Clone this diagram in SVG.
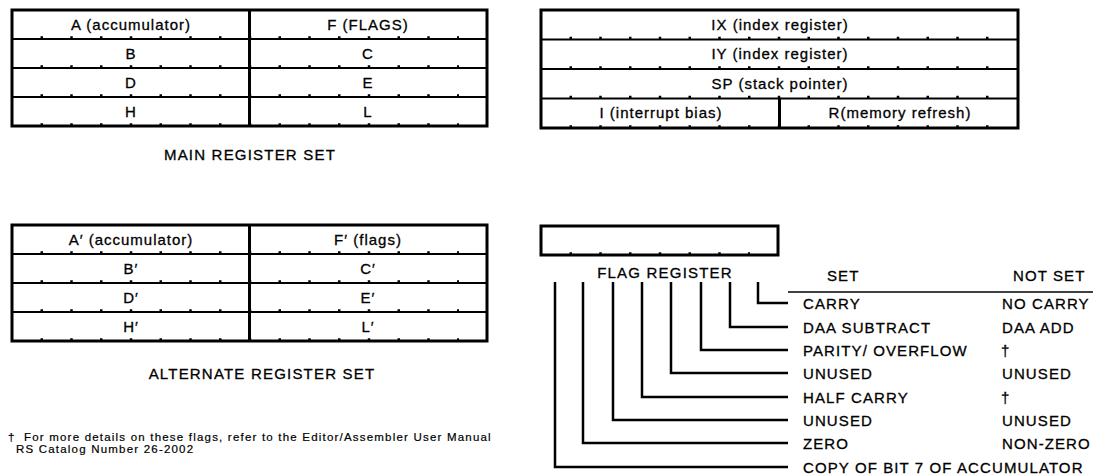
<svg xmlns="http://www.w3.org/2000/svg" width="1104" height="476" viewBox="0 0 1104 476">
<style>
  text { font-family: "Liberation Sans", Arial, sans-serif; fill: #000; stroke: #000; stroke-width: 0.3; }
  .lbl { font-size: 15px; letter-spacing: 1px; text-anchor: middle; }
  .cap { font-size: 15px; letter-spacing: 1.2px; text-anchor: middle; }
  .fl { font-size: 15px; letter-spacing: 1.1px; }
  .fn { font-size: 11.5px; letter-spacing: 1.2px; stroke-width: 0.2; }
  .border { fill: none; stroke: #000; stroke-width: 3; }
  .row { stroke: #000; stroke-width: 2; fill: none; }
  .div { stroke: #000; stroke-width: 3; fill: none; }
  .bump { stroke: #000; stroke-width: 2.5; stroke-dasharray: 2.5 27.25; fill: none; }
  .wire { fill: none; stroke: #000; stroke-width: 2.5; }
</style>
<rect width="1104" height="476" fill="#fff"/>

<g id="main-register-set">
  <line class="row" x1="12" y1="39" x2="487" y2="39"/>
  <line class="row" x1="12" y1="68" x2="487" y2="68"/>
  <line class="row" x1="12" y1="97" x2="487" y2="97"/>
  <line class="bump" x1="40.5" y1="37.5" x2="459" y2="37.5"/>
  <line class="bump" x1="40.5" y1="66.5" x2="459" y2="66.5"/>
  <line class="bump" x1="40.5" y1="95.5" x2="459" y2="95.5"/>
  <line class="bump" x1="40.5" y1="124.5" x2="459" y2="124.5"/>
  <line class="div" x1="249.5" y1="10" x2="249.5" y2="126"/>
  <rect class="border" x="12" y="10" width="475" height="116"/>
  <text class="lbl" x="131" y="29.5">A (accumulator)</text>
  <text class="lbl" x="368" y="29.5">F (FLAGS)</text>
  <text class="lbl" x="131" y="58.5">B</text>
  <text class="lbl" x="368" y="58.5">C</text>
  <text class="lbl" x="131" y="87.5">D</text>
  <text class="lbl" x="368" y="87.5">E</text>
  <text class="lbl" x="131" y="116.5">H</text>
  <text class="lbl" x="368" y="116.5">L</text>
  <text class="cap" x="250" y="160">MAIN REGISTER SET</text>
</g>

<g id="special-registers">
  <line class="row" x1="541" y1="39.5" x2="1018" y2="39.5"/>
  <line class="row" x1="541" y1="69" x2="1018" y2="69"/>
  <line class="row" x1="541" y1="98.5" x2="1018" y2="98.5"/>
  <line class="bump" x1="569.5" y1="38" x2="990" y2="38"/>
  <line class="bump" x1="569.5" y1="67.5" x2="990" y2="67.5"/>
  <line class="bump" x1="569.5" y1="97" x2="990" y2="97"/>
  <line class="bump" x1="569.5" y1="126.5" x2="990" y2="126.5"/>
  <line class="div" x1="779.5" y1="98.5" x2="779.5" y2="128"/>
  <rect class="border" x="541" y="10" width="477" height="118"/>
  <text class="lbl" x="780" y="29.5">IX (index register)</text>
  <text class="lbl" x="780" y="59">IY (index register)</text>
  <text class="lbl" x="780" y="88.5">SP (stack pointer)</text>
  <text class="lbl" x="661" y="118">I (interrupt bias)</text>
  <text class="lbl" x="900" y="118">R(memory refresh)</text>
</g>

<g id="alternate-register-set">
  <line class="row" x1="12" y1="254" x2="487" y2="254"/>
  <line class="row" x1="12" y1="283" x2="487" y2="283"/>
  <line class="row" x1="12" y1="312" x2="487" y2="312"/>
  <line class="bump" x1="40.5" y1="252.5" x2="459" y2="252.5"/>
  <line class="bump" x1="40.5" y1="281.5" x2="459" y2="281.5"/>
  <line class="bump" x1="40.5" y1="310.5" x2="459" y2="310.5"/>
  <line class="bump" x1="40.5" y1="339.5" x2="459" y2="339.5"/>
  <line class="div" x1="249.5" y1="225" x2="249.5" y2="341"/>
  <rect class="border" x="12" y="225" width="475" height="116"/>
  <text class="lbl" x="131" y="244.5">A′ (accumulator)</text>
  <text class="lbl" x="368" y="244.5">F′ (flags)</text>
  <text class="lbl" x="131" y="273.5">B′</text>
  <text class="lbl" x="368" y="273.5">C′</text>
  <text class="lbl" x="131" y="302.5">D′</text>
  <text class="lbl" x="368" y="302.5">E′</text>
  <text class="lbl" x="131" y="331.5">H′</text>
  <text class="lbl" x="368" y="331.5">L′</text>
  <text class="cap" x="262" y="378.5">ALTERNATE REGISTER SET</text>
</g>

<g id="flag-register">
  <line class="bump" x1="569.5" y1="253.5" x2="750" y2="253.5"/>
  <rect class="border" x="541" y="226" width="237" height="29"/>
  <text class="cap" x="665" y="277.5">FLAG REGISTER</text>
</g>

<g id="flag-table-header">
  <text class="fl" x="827" y="280.5">SET</text>
  <text class="fl" x="1013" y="280.5">NOT SET</text>
  <line x1="788" y1="292" x2="1093" y2="292" stroke="#000" stroke-width="1.5"/>
</g>

<g id="connectors">
  <path class="wire" d="M758,282 V303 H788"/>
  <path class="wire" d="M730,282 V327 H788"/>
  <path class="wire" d="M701,282 V350 H788"/>
  <path class="wire" d="M671,282 V373 H788"/>
  <path class="wire" d="M642,282 V397 H788"/>
  <path class="wire" d="M613,282 V420 H788"/>
  <path class="wire" d="M583,282 V443 H788"/>
  <path class="wire" d="M555,282 V467 H788"/>
</g>

<g id="flag-bit-0"><text class="fl" x="803" y="308.5">CARRY</text><text class="fl" x="1002" y="308.5">NO CARRY</text></g>
<g id="flag-bit-1"><text class="fl" x="803" y="332.5">DAA SUBTRACT</text><text class="fl" x="1002" y="332.5">DAA ADD</text></g>
<g id="flag-bit-2"><text class="fl" x="803" y="355.5">PARITY/ OVERFLOW</text><text class="fl" x="1001" y="355.5">†</text></g>
<g id="flag-bit-3"><text class="fl" x="803" y="378.5">UNUSED</text><text class="fl" x="1002" y="378.5">UNUSED</text></g>
<g id="flag-bit-4"><text class="fl" x="803" y="402.5">HALF CARRY</text><text class="fl" x="1001" y="402.5">†</text></g>
<g id="flag-bit-5"><text class="fl" x="803" y="425.5">UNUSED</text><text class="fl" x="1002" y="425.5">UNUSED</text></g>
<g id="flag-bit-6"><text class="fl" x="803" y="448.5">ZERO</text><text class="fl" x="1002" y="448.5">NON-ZERO</text></g>
<g id="flag-bit-7"><text class="fl" x="803" y="472.5">COPY OF BIT 7 OF ACCUMULATOR</text></g>

<g id="footnote">
  <text class="fn" x="8" y="440.5">†</text>
  <text class="fn" x="24" y="440.5">For more details on these flags, refer to the Editor/Assembler User Manual</text>
  <text class="fn" x="16" y="453">RS Catalog Number 26-2002</text>
</g>
</svg>
